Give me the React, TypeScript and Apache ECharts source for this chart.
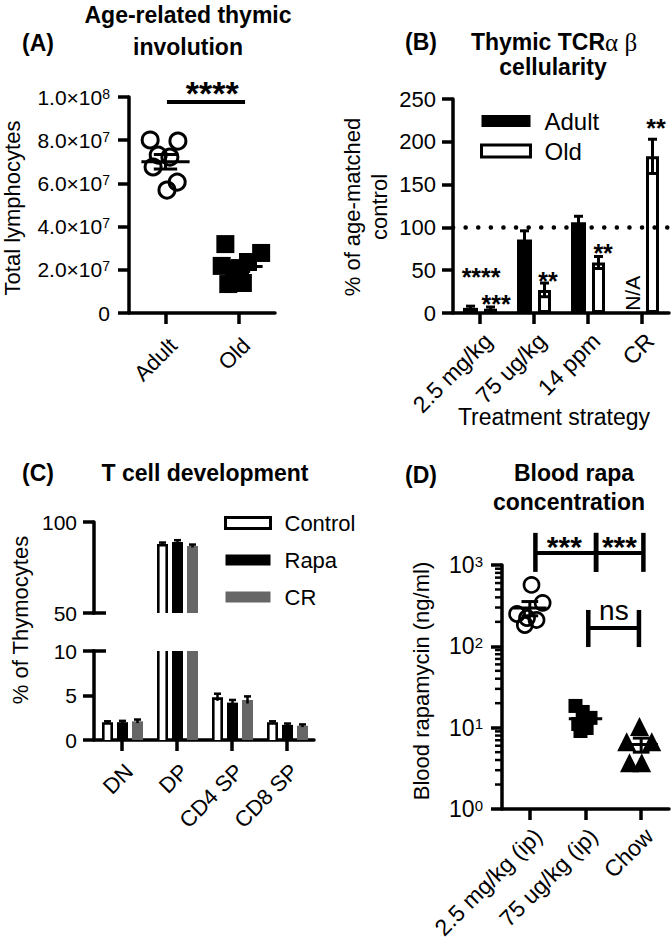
import React, { useEffect, useRef } from 'react';
import * as echarts from 'echarts';

const FONT = '"Liberation Sans", Arial, Helvetica, sans-serif';
const SERIF = '"Liberation Serif", "DejaVu Serif", serif';
const BLACK = '#000000';
const GRAY = '#666666';

// ---------- Panel A: Age-related thymic involution ----------
const aCategories = ['Adult', 'Old'];
const aAdult = [8.01e7, 7.96e7, 7.31e7, 7.22e7, 6.76e7, 6.06e7, 5.69e7];
const aAdultJitter = [-0.21, 0.17, -0.1, 0.06, -0.17, 0.16, 0.02];
const aOld = [3.19e7, 2.78e7, 2.36e7, 2.18e7, 1.9e7, 1.34e7, 1.39e7, 2.08e7];
const aOldJitter = [-0.18, 0.31, 0.13, -0.23, -0.06, -0.14, 0.06, 0.02];
const aBrackets = [[0.02, 1.09, 0.977e8]];
const aStars = [{ x: 0.64, y: 1.055e8, text: '****', size: 34, kind: 'star', bold: true }];

// ---------- Panel B: Thymic TCRab cellularity ----------
const bCategories = ['2.5 mg/kg', '75 ug/kg', '14 ppm', 'CR'];
const bAdult = [6, 86, 106, null];
const bAdultErr = [2, 10, 7, null];
const bOld = [5, 27, 59, 183];
const bOldErr = [2, 8, 7, 20];
const bReference = 100;
const bTexts = [
  { x: 0.02, y: 48, text: '****', size: 25, kind: 'star', bold: true },
  { x: 0.3, y: 17.5, text: '***', size: 25, kind: 'star', bold: true },
  { x: 1.26, y: 44, text: '**', size: 25, kind: 'star', bold: true },
  { x: 2.28, y: 77, text: '**', size: 25, kind: 'star', bold: true },
  { x: 3.26, y: 222, text: '**', size: 25, kind: 'star', bold: true },
  { x: 2.83, y: 23, text: 'N/A', size: 21, kind: 'cap', bold: false, rot: 90 },
];

// ---------- Panel C: T cell development ----------
const cCategories = ['DN', 'DP', 'CD4 SP', 'CD8 SP'];
const cControl = [2.0, 87.9, 4.8, 2.0];
const cControlErr = [0.1, 0.8, 0.4, 0.1];
const cRapa = [2.0, 89.0, 4.2, 1.7];
const cRapaErr = [0.15, 1.0, 0.3, 0.15];
const cCR = [2.1, 86.8, 4.5, 1.6];
const cCRErr = [0.2, 0.8, 0.4, 0.15];
const cBreakUpper = 50;
const cBreakLower = 10;

// ---------- Panel D: Blood rapa concentration ----------
const dCategories = ['2.5 mg/kg (ip)', '75 ug/kg (ip)', 'Chow'];
const dIp25 = [569, 342, 250, 223, 183, 211];
const dIp25Jitter = [0.03, 0.23, -0.23, -0.05, -0.09, 0.12];
const dIp75 = [18.5, 15.6, 13.2, 11.1, 9.9, 9.1];
const dIp75Jitter = [-0.18, -0.05, 0.09, -0.13, 0.02, -0.09];
const dChow = [10.3, 6.7, 6.7, 3.7, 3.7];
const dChowJitter = [-0.03, -0.26, 0.19, -0.21, 0.01];
const dMinorTicks = [2, 3, 4, 5, 6, 7, 8, 9, 20, 30, 40, 50, 60, 70, 80, 90, 200, 300, 400, 500, 600, 700, 800, 900];
const dBrackets = [
  [0.1, 1.19, 1409, 2483, 823],
  [1.19, 2.04, 1409, 2483, 823],
  [1.05, 1.96, 168, 280, 98],
];
const dTexts = [
  { x: 0.62, y: 2037, text: '***', size: 30, kind: 'star', bold: true },
  { x: 1.61, y: 2037, text: '***', size: 30, kind: 'star', bold: true },
  { x: 1.51, y: 257, text: 'ns', size: 28, kind: 'lower', bold: false },
];

// ---------- helpers ----------
const mean = (a: number[]) => a.reduce((s, v) => s + v, 0) / a.length;
const sem = (a: number[]) => {
  const m = mean(a);
  const sd = Math.sqrt(a.reduce((s, v) => s + (v - m) * (v - m), 0) / (a.length - 1));
  return sd / Math.sqrt(a.length);
};
const jittered = (vals: number[], jit: number[], idx: number) => vals.map((v, i) => [idx + jit[i], v]);

const lineEl = (x1: number, y1: number, x2: number, y2: number, lw: number) => ({
  type: 'line',
  shape: { x1, y1, x2, y2 },
  style: { stroke: BLACK, lineWidth: lw },
});

const axisLine = { show: true, onZero: false, lineStyle: { color: BLACK, width: 3.5 } };
const axisTick = { show: true, length: 11, lineStyle: { color: BLACK, width: 3.5 } };

const catAxis = (gridIndex: number, data: string[], margin: number, fontSize: number) => ({
  type: 'category',
  gridIndex,
  data,
  boundaryGap: true,
  axisLine,
  axisTick: { ...axisTick, alignWithLabel: true },
  axisLabel: {
    rotate: 45, align: 'right', verticalAlign: 'top', margin, interval: 0,
    fontSize, fontFamily: FONT, color: BLACK,
  },
  splitLine: { show: false },
});
const hiddenX = (gridIndex: number, n: number) => ({
  type: 'value', gridIndex, min: -0.5, max: n - 0.5, show: false, splitLine: { show: false },
});
const valAxis = (gridIndex: number, min: number, max: number, interval: number, margin: number, fontSize: number, extra: any = {}) => ({
  type: 'value',
  gridIndex, min, max, interval,
  axisLine, axisTick,
  axisLabel: { margin, fontSize, fontFamily: FONT, color: BLACK, ...(extra.axisLabel || {}) },
  splitLine: { show: false },
});

const richLabel = (big: number, small: number) => ({
  b: { fontSize: big, fontFamily: FONT, color: BLACK },
  s: { fontSize: small, fontFamily: FONT, color: BLACK, verticalAlign: 'top' },
});

const sciLabel = (v: number) => {
  if (v === 0) return '{b|0}';
  const e = Math.floor(Math.log10(v) + 1e-9);
  const m = v / Math.pow(10, e);
  return `{b|${m.toFixed(1)}×10}{s|${e}}`;
};
const logLabel = (v: number) => `{b|10}{s|${Math.round(Math.log10(v))}}`;

function meanSemSeries(xAxisIndex: number, yAxisIndex: number, groups: number[][], halfW: number, capW: number, lw: number) {
  const data = groups.map((g, i) => [i, mean(g), sem(g)]);
  return {
    type: 'custom', xAxisIndex, yAxisIndex, silent: true, z: 6, data,
    renderItem: (params: any, api: any) => {
      const i = api.value(0), m = api.value(1), s = api.value(2);
      const a = api.coord([i - halfW, m]), b = api.coord([i + halfW, m]);
      const t = api.coord([i, m + s]), d = api.coord([i, m - s]);
      const tl = api.coord([i - capW, m + s]), tr = api.coord([i + capW, m + s]);
      const dl = api.coord([i - capW, m - s]), dr = api.coord([i + capW, m - s]);
      return {
        type: 'group',
        children: [
          lineEl(a[0], a[1], b[0], b[1], lw),
          lineEl(t[0], t[1], d[0], d[1], lw),
          lineEl(tl[0], tl[1], tr[0], tr[1], lw),
          lineEl(dl[0], dl[1], dr[0], dr[1], lw),
        ],
      };
    },
  };
}

function textSeries(xAxisIndex: number, yAxisIndex: number, items: any[]) {
  return {
    type: 'custom', xAxisIndex, yAxisIndex, silent: true, z: 10,
    data: items.map((t) => [t.x, t.y]),
    renderItem: (params: any, api: any) => {
      const t = items[params.dataIndex];
      const p = api.coord([api.value(0), api.value(1)]);
      const shift = t.kind === 'star' ? 0.22 : t.kind === 'lower' ? -0.085 : 0.0;
      return {
        type: 'text',
        x: p[0],
        y: p[1] + shift * t.size,
        rotation: ((t.rot || 0) * Math.PI) / 180,
        style: {
          text: t.text, fontSize: t.size, fontFamily: FONT,
          fontWeight: t.bold ? 'bold' : 'normal', fill: BLACK,
          align: 'center', verticalAlign: 'middle',
        },
      };
    },
  };
}

function bracketSeries(xAxisIndex: number, yAxisIndex: number, brackets: number[][], lw: number, vlw: number) {
  return {
    type: 'custom', xAxisIndex, yAxisIndex, silent: true, z: 10,
    data: brackets,
    renderItem: (params: any, api: any) => {
      const b = brackets[params.dataIndex];
      const [x1, x2, y, yt, yb] = b;
      const l = api.coord([x1, y]), r = api.coord([x2, y]);
      const children: any[] = [lineEl(l[0], l[1], r[0], r[1], lw)];
      if (yt !== undefined) {
        [x1, x2].forEach((x) => {
          const t = api.coord([x, yt]), d = api.coord([x, yb]);
          children.push(lineEl(t[0], t[1], d[0], d[1], vlw));
        });
      }
      return { type: 'group', children };
    },
  };
}

function cBarSeries(name: string, values: number[], errs: number[], offset: number, kind: string, color: string,
  xAxisIndex: number, yAxisIndex: number, yMin: number, yMax: number) {
  return {
    type: 'custom', name, xAxisIndex, yAxisIndex, silent: true, z: 3,
    itemStyle: { color },
    data: values.map((v, i) => [i, v, errs[i]]),
    renderItem: (params: any, api: any) => {
      const i = api.value(0), v = api.value(1), e = api.value(2);
      const children: any[] = [];
      if (v > yMin) {
        const clipped = v > yMax;
        const hi = clipped ? yMax : v;
        const pLo = api.coord([i, yMin]), pHi = api.coord([i, hi]);
        const w = 11, cx = pLo[0] + offset, x0 = cx - w / 2;
        const h = pLo[1] - pHi[1];
        if (kind === 'fill') {
          children.push({ type: 'rect', shape: { x: x0, y: pHi[1], width: w, height: h }, style: { fill: color } });
        } else {
          const lw = 2.6, xl = x0 + lw / 2, xr = x0 + w - lw / 2;
          children.push({ type: 'rect', shape: { x: x0, y: pHi[1], width: w, height: h }, style: { fill: '#ffffff' } });
          if (clipped) {
            children.push(lineEl(xl, pLo[1], xl, pHi[1], lw), lineEl(xr, pLo[1], xr, pHi[1], lw));
          } else {
            children.push({
              type: 'polyline',
              shape: { points: [[xl, pLo[1]], [xl, pHi[1] + lw / 2], [xr, pHi[1] + lw / 2], [xr, pLo[1]]] },
              style: { stroke: BLACK, lineWidth: lw, fill: 'none', lineJoin: 'miter' },
            });
          }
        }
        if (!clipped) {
          const t = api.coord([i, v + e])[1], b = api.coord([i, Math.max(v - e, yMin)])[1];
          children.push(lineEl(cx, b, cx, t, 2.5), lineEl(cx - 3.5, t, cx + 3.5, t, 2.5));
        }
      }
      return { type: 'group', children };
    },
  };
}

function breakMarkSeries(xAxisIndex: number, yAxisIndex: number, value: number) {
  return {
    type: 'custom', xAxisIndex, yAxisIndex, silent: true, z: 4,
    data: [[-0.5, value]],
    renderItem: (params: any, api: any) => {
      const c = api.coord([api.value(0), api.value(1)]);
      return lineEl(c[0] - 1.75, c[1], c[0] + 12, c[1], 3.5);
    },
  };
}

function errorBarSeriesB() {
  const data: number[][] = [];
  bCategories.forEach((_, i) => {
    if (bAdult[i] !== null) data.push([i, bAdult[i] as number, bAdultErr[i] as number, -9.5]);
    data.push([i, bOld[i], bOldErr[i], 10.5]);
  });
  return {
    type: 'custom', xAxisIndex: 2, yAxisIndex: 1, silent: true, z: 5, data,
    renderItem: (params: any, api: any) => {
      const i = api.value(0), v = api.value(1), e = api.value(2), off = api.value(3);
      const c = api.coord([i, v]);
      const x = c[0] + off;
      const t = api.coord([i, v + e])[1], b = api.coord([i, Math.max(v - e, 0)])[1];
      return {
        type: 'group',
        children: [lineEl(x, b, x, t, 3), lineEl(x - 4.5, t, x + 4.5, t, 3), lineEl(x - 4.5, b, x + 4.5, b, 3)],
      };
    },
  };
}

function minorTickSeries() {
  return {
    type: 'custom', xAxisIndex: 8, yAxisIndex: 4, silent: true, z: 4,
    data: dMinorTicks.map((v) => [-0.5, v]),
    renderItem: (params: any, api: any) => {
      const c = api.coord([api.value(0), api.value(1)]);
      return lineEl(c[0] - 7, c[1], c[0], c[1], 2.5);
    },
  };
}

const gText = (x: number, y: number, text: string, size: number, opts: any = {}) => ({
  type: 'text', x, y, silent: true,
  rotation: opts.rot ? (opts.rot * Math.PI) / 180 : 0,
  style: {
    text, fontSize: size, fontFamily: FONT, fontWeight: opts.bold ? 'bold' : 'normal',
    fill: BLACK, align: 'center', verticalAlign: 'middle', rich: opts.rich,
  },
});

function buildOption() {
  const grid = [
    { left: 129, top: 97, width: 146, height: 216 },
    { left: 453, top: 99, width: 216, height: 214 },
    { left: 94, top: 522, width: 220, height: 91 },
    { left: 94, top: 651, width: 220, height: 89 },
    { left: 502, top: 565, width: 167, height: 244 },
  ].map((g) => ({ ...g, containLabel: false, outerBoundsMode: 'none' }));

  const xAxis = [
    catAxis(0, aCategories, 21, 22),
    hiddenX(0, aCategories.length),
    catAxis(1, bCategories, 16, 23),
    hiddenX(1, bCategories.length),
    hiddenX(2, cCategories.length),
    catAxis(3, cCategories, 20, 22),
    hiddenX(3, cCategories.length),
    catAxis(4, dCategories, 15, 23),
    hiddenX(4, dCategories.length),
  ];

  const yAxis = [
    valAxis(0, 0, 1e8, 2e7, 19, 21, { axisLabel: { formatter: sciLabel, rich: richLabel(21, 14) } }),
    valAxis(1, 0, 250, 50, 17, 22),
    valAxis(2, 50, 100, 50, 17, 21),
    valAxis(3, 0, 10, 5, 17, 21),
    {
      type: 'log', logBase: 10, gridIndex: 4, min: 1, max: 1000, splitNumber: 3,
      axisLine, axisTick,
      axisLabel: { margin: 19, formatter: logLabel, rich: richLabel(23, 15) },
      splitLine: { show: false },
    },
  ];

  const series: any[] = [
    // Panel A
    {
      type: 'scatter', name: 'A-Adult', xAxisIndex: 1, yAxisIndex: 0, symbol: 'circle', symbolSize: 16,
      itemStyle: { color: 'rgba(0,0,0,0)', borderColor: BLACK, borderWidth: 3, opacity: 1 },
      data: jittered(aAdult, aAdultJitter, 0), silent: true, z: 3,
    },
    {
      type: 'scatter', name: 'A-Old', xAxisIndex: 1, yAxisIndex: 0, symbol: 'rect', symbolSize: 18,
      itemStyle: { color: BLACK, opacity: 1 }, data: jittered(aOld, aOldJitter, 1), silent: true, z: 3,
    },
    meanSemSeries(1, 0, [aAdult, aOld], 0.33, 0.16, 3),
    bracketSeries(1, 0, aBrackets, 4, 4),
    textSeries(1, 0, aStars),

    // Panel B
    {
      type: 'line', name: 'ref', xAxisIndex: 2, yAxisIndex: 1, data: [], z: 1, silent: true,
      markLine: {
        silent: true, symbol: ['none', 'none'], label: { show: false },
        lineStyle: { color: BLACK, width: 4.5, type: [0.1, 12.5], cap: 'round' },
        data: [{ yAxis: bReference }],
      },
    },
    {
      type: 'bar', name: 'Adult', xAxisIndex: 2, yAxisIndex: 1, data: bAdult, barWidth: 15, barGap: '40%',
      itemStyle: { color: BLACK }, silent: true, z: 2,
    },
    {
      type: 'bar', name: 'Old', xAxisIndex: 2, yAxisIndex: 1, data: bOld, barWidth: 13, barGap: '40%',
      itemStyle: { color: '#ffffff', borderColor: BLACK, borderWidth: 3 }, silent: true, z: 2,
    },
    errorBarSeriesB(),
    textSeries(3, 1, bTexts),

    // Panel C upper (broken axis 50-100)
    cBarSeries('Control', cControl, cControlErr, -14, 'outline', '#ffffff', 4, 2, 50, 100),
    cBarSeries('Rapa', cRapa, cRapaErr, 1, 'fill', BLACK, 4, 2, 50, 100),
    cBarSeries('CR', cCR, cCRErr, 16, 'fill', GRAY, 4, 2, 50, 100),
    // Panel C lower (0-10)
    cBarSeries('Control', cControl, cControlErr, -14, 'outline', '#ffffff', 6, 3, 0, 10),
    cBarSeries('Rapa', cRapa, cRapaErr, 1, 'fill', BLACK, 6, 3, 0, 10),
    cBarSeries('CR', cCR, cCRErr, 16, 'fill', GRAY, 6, 3, 0, 10),
    breakMarkSeries(4, 2, cBreakUpper),
    breakMarkSeries(6, 3, cBreakLower),

    // Panel D
    {
      type: 'scatter', name: 'D-ip25', xAxisIndex: 8, yAxisIndex: 4, symbol: 'circle', symbolSize: 15,
      itemStyle: { color: 'rgba(0,0,0,0)', borderColor: BLACK, borderWidth: 2.7, opacity: 1 },
      data: jittered(dIp25, dIp25Jitter, 0), silent: true, z: 3,
    },
    {
      type: 'scatter', name: 'D-ip75', xAxisIndex: 8, yAxisIndex: 4, symbol: 'rect', symbolSize: 14,
      itemStyle: { color: BLACK, opacity: 1 }, data: jittered(dIp75, dIp75Jitter, 1), silent: true, z: 3,
    },
    {
      type: 'scatter', name: 'D-chow', xAxisIndex: 8, yAxisIndex: 4, symbol: 'triangle', symbolSize: 19,
      itemStyle: { color: BLACK, opacity: 1 }, data: jittered(dChow, dChowJitter, 2), silent: true, z: 3,
    },
    meanSemSeries(8, 4, [dIp25, dIp75, dChow], 0.3, 0.15, 3),
    minorTickSeries(),
    bracketSeries(8, 4, dBrackets, 4, 4.5),
    textSeries(8, 4, dTexts),
  ];

  const legend = [
    {
      orient: 'vertical', left: 480, top: 109, padding: 0, itemWidth: 49, itemHeight: 12, itemGap: 6, icon: 'rect',
      selectedMode: false,
      textStyle: { fontSize: 24, color: BLACK, fontFamily: FONT, padding: [0, 0, 0, 9] },
      data: [
        { name: 'Adult', itemStyle: { color: BLACK, borderWidth: 0 } },
        { name: 'Old', itemStyle: { color: '#ffffff', borderColor: BLACK, borderWidth: 3 } },
      ],
    },
    {
      orient: 'vertical', left: 224, top: 512, padding: 0, itemWidth: 45, itemHeight: 11, itemGap: 15, icon: 'rect',
      selectedMode: false,
      textStyle: { fontSize: 22, color: BLACK, fontFamily: FONT, padding: [0, 0, 0, 9] },
      data: [
        { name: 'Control', itemStyle: { color: '#ffffff', borderColor: BLACK, borderWidth: 3 } },
        { name: 'Rapa', itemStyle: { color: BLACK, borderWidth: 0 } },
        { name: 'CR', itemStyle: { color: GRAY, borderWidth: 0 } },
      ],
    },
  ];

  const graphic = [
    gText(38, 43, '(A)', 23, { bold: true }),
    gText(188, 15, 'Age-related thymic', 23, { bold: true }),
    gText(188, 47, 'involution', 23, { bold: true }),
    gText(12, 208, 'Total lymphocytes', 22, { rot: 90 }),

    gText(421, 42, '(B)', 23, { bold: true }),
    gText(554, 42, '{b|Thymic TCR}{g|α β}', 23, {
      rich: {
        b: { fontSize: 23, fontWeight: 'bold', fontFamily: FONT, fill: BLACK, color: BLACK },
        g: { fontSize: 25, fontWeight: 'normal', fontFamily: SERIF, fill: BLACK, color: BLACK },
      },
    }),
    gText(553, 67, 'cellularity', 23, { bold: true }),
    gText(352, 207, '% of age-matched', 22, { rot: 90 }),
    gText(379, 207, 'control', 22, { rot: 90 }),
    gText(554, 417, 'Treatment strategy', 23),

    gText(38, 473, '(C)', 23, { bold: true }),
    gText(205, 473, 'T cell development', 23, { bold: true }),
    gText(20, 620, '% of Thymocytes', 22, { rot: 90 }),

    gText(421, 475, '(D)', 23, { bold: true }),
    gText(574, 473, 'Blood rapa', 23, { bold: true }),
    gText(569, 502, 'concentration', 23, { bold: true }),
    gText(421, 681, 'Blood rapamycin (ng/ml)', 22, { rot: 90 }),
  ];

  return {
    animation: false,
    backgroundColor: '#ffffff',
    textStyle: { fontFamily: FONT },
    grid,
    xAxis,
    yAxis,
    legend,
    graphic,
    series,
  };
}

export default function App() {
  const ref = useRef<HTMLDivElement>(null);
  useEffect(() => {
    document.body.style.margin = '0';
    const chart = echarts.init(ref.current as HTMLDivElement, null, { renderer: 'svg' });
    chart.setOption(buildOption() as any);
    return () => chart.dispose();
  }, []);
  return (
    <div
      ref={ref}
      style={{ position: 'absolute', left: 0, top: 0, width: 672, height: 947, background: '#ffffff' }}
    />
  );
}
